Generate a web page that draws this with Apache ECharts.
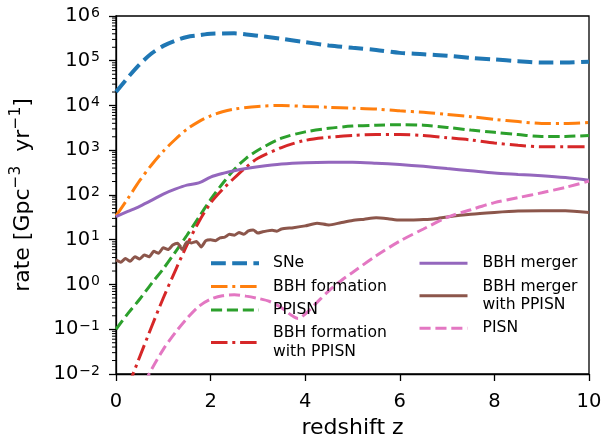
<!DOCTYPE html>
<html><head><meta charset="utf-8">
<script src="https://cdn.jsdelivr.net/npm/echarts@6/dist/echarts.min.js"></script>
<style>html,body{margin:0;padding:0;background:#fff}#c{width:605px;height:444px}</style>
</head><body><div id="c"></div>
<script>
// ---- data ----
const zForm = [0,0.25,0.5,0.75,1,1.25,1.5,1.75,2,2.25,2.5,3,3.5,4,4.5,5,5.5,6,6.5,7,7.5,8,8.5,9,9.5,10];
const zSNe = [0,0.25,0.5,0.75,1,1.25,1.5,1.75,2,2.5,3,3.5,4,4.5,5,5.5,6,6.5,7,7.5,8,8.5,9,9.5,10];
const sne = [2.0e4,4.2e4,8.3e4,1.45e5,2.15e5,2.8e5,3.4e5,3.7e5,4.0e5,4.1e5,3.6e5,3.1e5,2.6e5,2.2e5,1.95e5,1.74e5,1.5e5,1.4e5,1.29e5,1.16e5,1.07e5,9.8e4,9.1e4,9.1e4,9.5e4];
const bbhForm = [34,83,209,468,955,1740,2950,4370,5890,7240,8320,9550,10000,9550,9120,8710,8320,7590,7080,6310,5620,4900,4370,3980,3980,4170];
const zPPISN = [0,0.25,0.5,0.75,1,1.25,1.5,1.75,2,2.25,2.5,2.75,3,3.5,4,4.5,5,5.5,6,6.5,7,7.5,8,8.5,9,9.5,10];
const ppisnV = [0.1,0.224,0.468,1.05,2.24,5.25,12.6,31.6,79.4,178,372,661,1000,1860,2570,3090,3470,3630,3720,3630,3240,2820,2510,2240,2040,2040,2140];
const zBBHFormP = [0.25,0.5,0.75,1,1.25,1.5,1.75,2,2.25,2.5,2.75,3,3.5,4,4.5,5,5.5,6,6.5,7,7.5,8,8.5,9,9.5,10];
const bbhFormP = [0.005,0.024,0.112,0.5,2.0,7.6,25,66,132,240,417,661,1150,1660,1950,2140,2240,2240,2140,1910,1700,1450,1290,1200,1200,1200];
const zMerger = [0,0.25,0.5,0.75,1,1.25,1.5,1.75,2,2.25,2.5,2.75,3,3.5,4,4.5,5,5.5,6,6.5,7,7.5,8,8.5,9,9.5,10];
const bbhMerger = [33,43,56,76,105,135,166,186,251,302,347,389,427,490,525,537,537,513,479,437,389,347,309,288,269,245,214];
const zMergerP = [0,0.1,0.2,0.3,0.4,0.5,0.6,0.7,0.8,0.9,1.0,1.1,1.2,1.3,1.4,1.5,1.6,1.7,1.8,1.9,2.0,2.1,2.2,2.3,2.4,2.5,2.6,2.7,2.8,2.9,3.0,3.1,3.2,3.3,3.4,3.5,3.75,4,4.25,4.5,4.75,5,5.25,5.5,5.75,6,6.25,6.5,6.75,7,7.5,8,8.5,9,9.5,10];
const bbhMergerP = [3.55,3.16,3.80,3.31,4.17,3.72,4.57,4.17,5.50,5.01,6.61,6.03,7.59,8.32,6.03,8.91,8.51,9.12,6.92,9.55,10.0,9.55,11.0,11.5,13.2,12.6,14.5,13.2,15.8,16.6,14.1,15.1,15.8,16.2,15.5,17.4,18.6,20.4,23.4,21.4,24.0,26.9,28.8,30.9,29.5,27.5,27.5,28.2,29.5,32.4,37.2,40.7,43.7,44.7,44.7,40.7];
const zPISN = [0.6,0.75,1,1.25,1.5,1.75,2,2.25,2.5,2.75,3,3.25,3.5,3.7,3.85,4,4.25,4.5,4.75,5,5.5,6,6.5,7,7.5,8,8.5,9,9.5,10];
const pisn = [0.0063,0.0126,0.0355,0.083,0.174,0.324,0.468,0.562,0.589,0.55,0.49,0.417,0.302,0.209,0.174,0.219,0.398,0.724,1.20,1.86,4.37,9.33,17.4,31.6,46.8,67.6,87.1,112,148,204];
const xTicks = [0,2,4,6,8,10];
const yExponents = [-2,-1,0,1,2,3,4,5,6];
const seriesNames = ['SNe','BBH formation','PPISN','BBH formation\nwith PPISN','BBH merger','BBH merger\nwith PPISN','PISN'];

const FONT = 'DejaVu Sans';
const pair = (z, v) => z.map((x, i) => [x, v[i]]);
function line(name, z, v, color, width, type, smooth) {
  return { name, type: 'line', data: pair(z, v), showSymbol: false, symbol: 'none',
    smooth: smooth, clip: true, lineStyle: { color, width, type }, itemStyle: { color } };
}
const lw = 3;
const dashed = [3.7*lw, 1.6*lw];
const dashdot = [5.5*lw, 1.6*lw, 1*lw, 1.6*lw];

// minor log ticks (axis decoration)
const minorVals = [];
for (let e = yExponents[0]; e < yExponents[yExponents.length-1]; e++)
  for (let k = 2; k < 10; k++) minorVals.push([0, k * Math.pow(10, e)]);

const legendText = { fontFamily: FONT, fontSize: 15.6, color: '#000', lineHeight: 18.3 };
const chart = echarts.init(document.getElementById('c'), null, {renderer: 'canvas'});
chart.setOption({
  animation: false,
  backgroundColor: '#fff',
  grid: { left: 116, right: 16, top: 16, bottom: 70, show: true, borderColor: '#000', borderWidth: 1.3, backgroundColor: 'transparent' },
  xAxis: {
    type: 'value', min: xTicks[0], max: xTicks[xTicks.length-1], interval: 2,
    name: 'redshift z', nameLocation: 'middle', nameGap: 42,
    nameTextStyle: { fontFamily: FONT, fontSize: 22, color: '#000' },
    axisLine: { lineStyle: { color: '#000', width: 1.3 } },
    axisTick: { inside: false, length: 7, lineStyle: { color: '#000', width: 1.3 } },
    axisLabel: { fontFamily: FONT, fontSize: 19.5, color: '#000', margin: 18 },
    splitLine: { show: false }
  },
  yAxis: {
    type: 'log', logBase: 10, min: 0.01, max: 1e6, interval: 1,
    name: '{a|rate [Gpc}{s|−3}{a|  yr}{s|−1}{a|]}', nameLocation: 'middle', nameGap: 82, nameRotate: 90,
    nameTextStyle: { fontFamily: FONT, fontSize: 22, color: '#000',
      rich: { a: { fontFamily: FONT, fontSize: 22, color: '#000', lineHeight: 26, verticalAlign: 'bottom' },
              s: { fontFamily: FONT, fontSize: 15.5, color: '#000', lineHeight: 17, verticalAlign: 'top' } } },
    axisLine: { lineStyle: { color: '#000', width: 1.3 } },
    axisTick: { inside: false, length: 7, lineStyle: { color: '#000', width: 1.3 } },
    axisLabel: { margin: 16, color: '#000',
      formatter: v => { const e = Math.round(Math.log10(v)); return '{b|10}{s|' + String(e).replace('-', '−') + '}'; },
      rich: { b: { fontFamily: FONT, fontSize: 19.5, color: '#000', lineHeight: 20, verticalAlign: 'bottom', padding: [5,0,0,0] },
              s: { fontFamily: FONT, fontSize: 14, color: '#000', lineHeight: 14, verticalAlign: 'top', padding: [0,0,0,1] } } },
    splitLine: { show: false }
  },
  legend: [
    { data: seriesNames.slice(0, 4), orient: 'vertical', left: 209, top: 254, padding: 0, itemGap: 5.1,
      itemWidth: 48, itemHeight: 14, itemStyle: { opacity: 0 }, lineStyle: { width: 'inherit' },
      textStyle: Object.assign({ padding: [0,0,0,9] }, legendText) },
    { data: seriesNames.slice(4), orient: 'vertical', left: 418, top: 254, padding: 0, itemGap: 5.1,
      itemWidth: 48, itemHeight: 14, itemStyle: { opacity: 0 }, lineStyle: { width: 'inherit' },
      textStyle: Object.assign({ padding: [0,0,0,10] }, legendText) }
  ],
  series: [
    line(seriesNames[0], zSNe, sne, '#1f77b4', 4, [14.8, 6.4], 0.3),
    line(seriesNames[1], zForm, bbhForm, '#ff7f0e', lw, dashdot, 0.3),
    line(seriesNames[2], zPPISN, ppisnV, '#2ca02c', lw, dashed, 0.3),
    line(seriesNames[3], zBBHFormP, bbhFormP, '#d62728', lw, dashdot, 0.3),
    line(seriesNames[4], zMerger, bbhMerger, '#9467bd', lw, 'solid', 0.3),
    line(seriesNames[5], zMergerP, bbhMergerP, '#8c564b', lw, 'solid', 0.2),
    line(seriesNames[6], zPISN, pisn, '#e377c2', lw, dashed, 0.3),
    { type: 'custom', silent: true, clip: false, z: 10, data: minorVals,
      renderItem: (params, api) => {
        const p = api.coord([0, api.value(1)]);
        return { type: 'line', shape: { x1: p[0] - 4, y1: p[1], x2: p[0], y2: p[1] }, style: { stroke: '#000', lineWidth: 1 } };
      } }
  ]
});
</script>
</body></html>
